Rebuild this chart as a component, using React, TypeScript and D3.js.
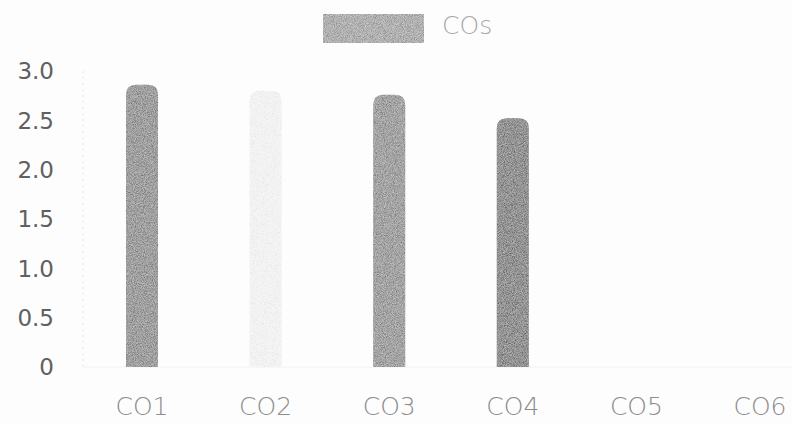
import React from "react";
import * as d3 from "d3";

const categories = ["CO1", "CO2", "CO3", "CO4", "CO5", "CO6"];
const values = [2.86, 2.8, 2.76, 2.52, 0, 0];
const barColors = ["#8e8e8e", "#f0f0f0", "#959595", "#787878", "#8e8e8e", "#8e8e8e"];
const yTicks = [0, 0.5, 1.0, 1.5, 2.0, 2.5, 3.0];
const seriesName = "COs";

const W = 792;
const H = 424;

export default function App() {
  const x = d3.scalePoint<string>().domain(categories).range([142, 760]);
  const y = d3.scaleLinear().domain([0, 3]).range([367, 71]);
  const bw = 32;
  const r = 10;

  const barPath = (cx: number, v: number) => {
    const x0 = cx - bw / 2;
    const x1 = cx + bw / 2;
    const yb = y(0);
    const yt = y(v);
    const p = d3.path();
    p.moveTo(x0, yb);
    p.lineTo(x0, yt + r);
    p.quadraticCurveTo(x0, yt, x0 + r, yt);
    p.lineTo(x1 - r, yt);
    p.quadraticCurveTo(x1, yt, x1, yt + r);
    p.lineTo(x1, yb);
    p.closePath();
    return p.toString();
  };

  return (
    <svg
      width={W}
      height={H}
      style={{ position: "absolute", left: 0, top: 0, background: "#fdfdfd" }}
      fontFamily="'DejaVu Sans', sans-serif"
    >
      <defs>
        <filter id="grain" x="0" y="0" width="100%" height="100%">
          <feTurbulence type="fractalNoise" baseFrequency="1.1" numOctaves="2" seed="5" result="n" />
          <feColorMatrix in="n" type="matrix"
            values="1.6 0 0 0 -0.3  1.6 0 0 0 -0.3  1.6 0 0 0 -0.3  0 0 0 0 0.35" result="g" />
          <feComposite in="g" in2="SourceGraphic" operator="in" result="gm" />
          <feMerge>
            <feMergeNode in="SourceGraphic" />
            <feMergeNode in="gm" />
          </feMerge>
        </filter>
        <filter id="grainLight" x="0" y="0" width="100%" height="100%">
          <feTurbulence type="fractalNoise" baseFrequency="1.1" numOctaves="2" seed="9" result="n" />
          <feColorMatrix in="n" type="matrix"
            values="1.6 0 0 0 0.2  1.6 0 0 0 0.2  1.6 0 0 0 0.2  0 0 0 0 0.25" result="g" />
          <feComposite in="g" in2="SourceGraphic" operator="in" result="gm" />
          <feMerge>
            <feMergeNode in="SourceGraphic" />
            <feMergeNode in="gm" />
          </feMerge>
        </filter>
      </defs>
      <rect x={0} y={0} width={W} height={H} fill="#fdfdfd" />
      {/* axis lines */}
      <line x1={83} x2={83} y1={y(3)} y2={y(0)} stroke="#e6e6e6" strokeWidth={1} strokeDasharray="2 4" />
      <line x1={83} x2={W} y1={y(0)} y2={y(0)} stroke="#f2f2f2" strokeWidth={1} />
      {/* y ticks */}
      {yTicks.map((t) => (
        <text
          key={t}
          x={54}
          y={y(t)}
          dy="0.36em"
          textAnchor="end"
          fontSize={23}
          fontWeight={400}
          fill="#606060"
        >
          {t === 0 ? "0" : t.toFixed(1)}
        </text>
      ))}
      {/* bars */}
      {categories.map((c, i) =>
        values[i] > 0 ? (
          <path
            key={c}
            d={barPath(x(c)!, values[i])}
            fill={barColors[i]}
            filter={i === 1 ? "url(#grainLight)" : "url(#grain)"}
          />
        ) : null
      )}
      {/* x labels */}
      {categories.map((c) => (
        <text key={c} x={x(c)!} y={415} textAnchor="middle" fontSize={25} fontWeight={200} fill="#8c8c8c">
          {c}
        </text>
      ))}
      {/* legend */}
      <rect x={323} y={14} width={101} height={29} fill="#ababab" filter="url(#grain)" />
      <text x={442} y={34} fontSize={25} fontWeight={200} fill="#a8a8a8">
        {seriesName}
      </text>
    </svg>
  );
}
